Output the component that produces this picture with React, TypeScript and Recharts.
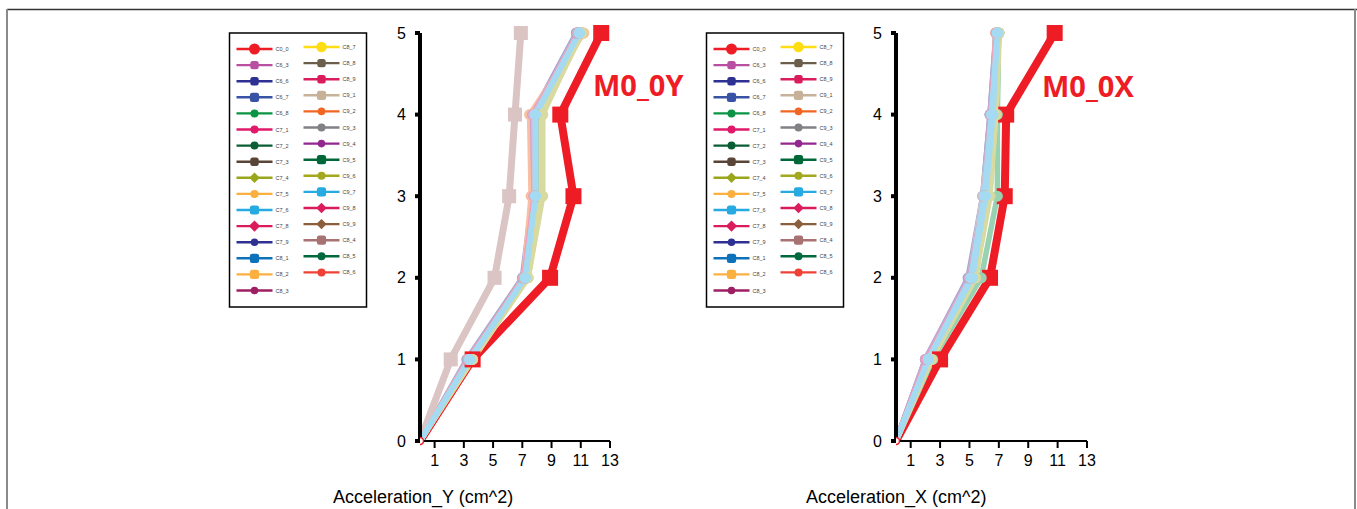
import { Line, LineChart, XAxis, YAxis } from "recharts";

// storey levels on the vertical axis
const storeys = [0, 1, 2, 3, 4, 5];
const yTicks = [0, 1, 2, 3, 4, 5];
const xTicks = [1, 3, 5, 7, 9, 11, 13];

const seriesNames = [
  "C0_0", "C6_3", "C6_6", "C6_7", "C6_8", "C7_1", "C7_2", "C7_3",
  "C7_4", "C7_5", "C7_6", "C7_8", "C7_9", "C8_1", "C8_2", "C8_3",
  "C8_7", "C8_8", "C8_9", "C9_1", "C9_2", "C9_3", "C9_4", "C9_5",
  "C9_6", "C9_7", "C9_8", "C9_9", "C8_4", "C8_5", "C8_6",
];

const seriesColors = [
  "#ee1c25", "#b94fa0", "#2e3192", "#3953a4", "#0b9444", "#e0196a", "#0b5e34", "#584537",
  "#9aa61c", "#fbaf3f", "#27aae1", "#da1c5c", "#2e3192", "#0d72b9", "#fbb040", "#9e1f63",
  "#ffdd15", "#6b5e4b", "#da1c5c", "#c7b299", "#f26522", "#808285", "#92278f", "#006838",
  "#a3a81d", "#27aae1", "#da1c5c", "#8b5e3c", "#a87272", "#00693e", "#ef4136",
];

// acceleration Y per series, storey 0..5
const accelY = [
  [0, 3.6, 8.9, 10.5, 9.6, 12.4],
  [0, 3.4, 7.2, 7.9, 7.8, 10.9],
  [0, 3.3, 7.1, 7.8, 7.7, 10.7],
  [0, 3.4, 7.2, 7.9, 7.8, 10.8],
  [0, 3.5, 7.3, 8.0, 7.9, 11.0],
  [0, 3.4, 7.2, 7.8, 7.8, 10.9],
  [0, 3.3, 7.1, 7.9, 7.9, 10.8],
  [0, 3.5, 7.3, 8.0, 8.0, 11.1],
  [0, 3.6, 7.4, 8.4, 8.4, 11.0],
  [0, 3.4, 7.1, 7.7, 7.6, 11.2],
  [0, 3.4, 7.2, 7.9, 7.9, 10.9],
  [0, 3.3, 7.2, 7.8, 7.8, 10.8],
  [0, 3.2, 7.0, 7.7, 7.7, 10.7],
  [0, 3.4, 7.3, 8.0, 7.9, 11.0],
  [0, 3.5, 7.1, 7.7, 7.6, 11.1],
  [0, 3.3, 7.2, 7.9, 7.8, 10.9],
  [0, 3.4, 7.3, 8.1, 8.0, 11.0],
  [0, 3.3, 7.1, 7.8, 7.8, 10.8],
  [0, 3.4, 7.2, 7.9, 7.9, 10.9],
  [0, 3.5, 7.3, 8.0, 8.1, 11.1],
  [0, 3.4, 7.1, 7.6, 7.5, 11.2],
  [0, 3.3, 7.2, 7.9, 7.8, 10.8],
  [0, 3.4, 7.2, 7.8, 7.7, 10.9],
  [0, 3.5, 7.3, 8.0, 8.0, 11.0],
  [0, 3.6, 7.4, 8.3, 8.3, 11.1],
  [0, 3.4, 7.2, 7.9, 7.9, 10.9],
  [0, 3.3, 7.1, 7.8, 7.8, 10.8],
  [0, 3.4, 7.2, 8.0, 7.9, 11.0],
  [0, 2.1, 5.1, 6.1, 6.5, 6.9],
  [0, 3.5, 7.2, 8.0, 8.0, 10.9],
  [0, 3.4, 7.3, 7.9, 7.8, 11.0],
];

// acceleration X per series, storey 0..5
const accelX = [
  [0, 3.0, 6.4, 7.4, 7.5, 10.8],
  [0, 2.2, 5.1, 6.0, 6.5, 6.9],
  [0, 2.0, 5.0, 5.9, 6.4, 6.8],
  [0, 2.1, 5.1, 6.0, 6.5, 6.9],
  [0, 2.5, 5.8, 6.9, 6.9, 7.0],
  [0, 2.2, 5.2, 6.1, 6.6, 6.9],
  [0, 2.3, 5.3, 6.2, 6.7, 7.0],
  [0, 2.1, 5.0, 6.0, 6.5, 6.8],
  [0, 2.4, 5.4, 6.4, 6.8, 7.0],
  [0, 2.2, 5.2, 6.1, 6.6, 6.8],
  [0, 2.2, 5.1, 6.0, 6.5, 6.9],
  [0, 2.1, 5.2, 6.1, 6.6, 7.0],
  [0, 2.0, 4.9, 5.9, 6.4, 6.8],
  [0, 2.2, 5.2, 6.1, 6.6, 6.9],
  [0, 2.3, 5.3, 6.2, 6.6, 6.8],
  [0, 2.1, 5.1, 6.0, 6.5, 6.9],
  [0, 2.3, 5.3, 6.2, 6.7, 7.0],
  [0, 2.2, 5.1, 6.0, 6.6, 6.9],
  [0, 2.1, 5.2, 6.1, 6.5, 6.9],
  [0, 2.4, 5.4, 6.3, 6.8, 7.0],
  [0, 2.2, 5.2, 6.1, 6.6, 6.8],
  [0, 2.1, 5.0, 5.9, 6.5, 6.9],
  [0, 2.0, 5.0, 6.0, 6.4, 6.9],
  [0, 2.3, 5.3, 6.2, 6.7, 7.0],
  [0, 2.4, 5.4, 6.3, 6.8, 7.0],
  [0, 2.2, 5.2, 6.1, 6.6, 6.9],
  [0, 2.1, 5.1, 6.0, 6.5, 6.8],
  [0, 2.2, 5.2, 6.1, 6.6, 6.9],
  [0, 2.3, 5.3, 6.2, 6.7, 7.0],
  [0, 2.3, 5.2, 6.1, 6.6, 6.9],
  [0, 2.2, 5.1, 6.0, 6.6, 6.9],
];

// series drawn last so they sit on top of the bundle
const topSeries = ["C6_3", "C7_4", "C9_6", "C7_6", "C9_7"];

// legend marker look: c = circle, s = rounded square, d = diamond
const legendShapes = [
  "c", "s", "s", "s", "c", "c", "c", "s", "d", "c", "s", "d", "c", "s", "s", "c",
  "c", "s", "s", "s", "c", "c", "c", "s", "c", "s", "d", "d", "s", "c", "c",
];
const legendSizes = [
  5.5, 4.2, 4.2, 4.6, 4, 4, 4, 4.2, 5.2, 4, 4.6, 5.6, 3.8, 4.6, 4.6, 3.8,
  5.2, 4.2, 4.2, 4.6, 3.8, 4, 3.8, 4.6, 4, 4.6, 5.2, 5.2, 4.6, 4, 4,
];

const FONT = "'Liberation Sans', Arial, sans-serif";
const RED = "#ee1c25";

function tint(hex: string, k: number) {
  const n = parseInt(hex.slice(1), 16);
  const mix = (c: number) => Math.round(c + (255 - c) * k);
  const r = mix((n >> 16) & 255);
  const g = mix((n >> 8) & 255);
  const b = mix(n & 255);
  return `rgb(${r},${g},${b})`;
}

function buildRows(values: number[][]) {
  return storeys.map((s, i) => {
    const row: Record<string, number> = { storey: s };
    seriesNames.forEach((name, k) => {
      row[name] = values[k][i];
    });
    return row;
  });
}

function makeDot(name: string, kind: "red" | "pink" | "plain", color: string) {
  return (p: any) => {
    const { cx, cy, index } = p;
    const key = `${name}-${index}`;
    if (cx == null || cy == null) return <g key={key} />;
    if (kind === "red") {
      if (index === 0)
        return <circle key={key} cx={cx} cy={cy} r={3.5} fill="#fff" stroke={RED} strokeWidth={1.5} />;
      return <rect key={key} x={cx - 8} y={cy - 8} width={16} height={16} fill={RED} />;
    }
    if (kind === "pink") {
      if (index === 0) return <g key={key} />;
      return <rect key={key} x={cx - 7} y={cy - 7} width={14} height={14} fill={color} />;
    }
    if (index === 0) return <g key={key} />;
    return <circle key={key} cx={cx} cy={cy} r={5.5} fill={color} />;
  };
}

function StoreyChart({
  values,
  left,
  marginRight,
  pinkSeries,
}: {
  values: number[][];
  left: number;
  marginRight: number;
  pinkSeries: boolean;
}) {
  const rows = buildRows(values);
  const order = seriesNames
    .map((name, k) => k)
    .filter((k) => !topSeries.includes(seriesNames[k]))
    .concat(topSeries.map((n) => seriesNames.indexOf(n)));
  return (
    <div style={{ position: "absolute", left, top: 0 }}>
      <LineChart
        layout="vertical"
        width={300}
        height={509}
        data={rows}
        margin={{ top: 33, right: marginRight, left: 40, bottom: 38 }}
      >
        <XAxis
          type="number"
          domain={[0, 13]}
          ticks={xTicks}
          allowDataOverflow
          axisLine={{ stroke: "#000", strokeWidth: 2 }}
          tickLine={{ stroke: "#000", strokeWidth: 2 }}
          tickSize={7}
          tickMargin={7}
          height={30}
          interval={0}
          tick={{ fill: "#000", fontSize: 16, fontFamily: FONT }}
        />
        <YAxis
          type="number"
          dataKey="storey"
          domain={[0, 5]}
          ticks={yTicks}
          reversed
          width={40}
          axisLine={{ stroke: "#000", strokeWidth: 4 }}
          tickLine={{ stroke: "#000", strokeWidth: 4 }}
          tickSize={5}
          tickMargin={9}
          interval={0}
          tick={{ fill: "#000", fontSize: 16, fontFamily: FONT }}
        />
        {order.map((k) => {
          const name = seriesNames[k];
          const isRed = k === 0;
          const isPink = pinkSeries && name === "C8_4";
          const color = isRed ? RED : tint(seriesColors[k], 0.58);
          return (
            <Line
              key={name}
              dataKey={name}
              type="linear"
              stroke={color}
              strokeWidth={isRed ? 8 : isPink ? 7 : 5.5}
              strokeLinejoin="miter"
              dot={makeDot(name, isRed ? "red" : isPink ? "pink" : "plain", color)}
              activeDot={false}
              isAnimationActive={false}
            />
          );
        })}
      </LineChart>
    </div>
  );
}

function LegendBox({ x, y }: { x: number; y: number }) {
  const pitch = 16.1;
  return (
    <g transform={`translate(${x},${y})`}>
      <rect x={0} y={0} width={137} height={274} fill="#fff" stroke="#000" strokeWidth={1.5} />
      {seriesNames.map((name, i) => {
        const col = i < 16 ? 0 : 1;
        const row = col === 0 ? i : i - 16;
        const cy = (col === 0 ? 16 : 14) + row * pitch;
        const x0 = col === 0 ? 7 : 74;
        const mx = x0 + 18;
        const color = seriesColors[i];
        const s = legendSizes[i];
        const shape = legendShapes[i];
        let marker;
        if (shape === "c") marker = <circle cx={mx} cy={cy} r={s} fill={color} />;
        else if (shape === "s")
          marker = <rect x={mx - s} y={cy - s} width={s * 2} height={s * 2} rx={2.5} fill={color} />;
        else
          marker = (
            <polygon
              points={`${mx},${cy - s} ${mx + s},${cy} ${mx},${cy + s} ${mx - s},${cy}`}
              fill={color}
            />
          );
        return (
          <g key={name}>
            <line x1={x0} x2={x0 + 36} y1={cy} y2={cy} stroke={color} strokeWidth={2.4} />
            {marker}
            <text x={x0 + 39} y={cy + 2} fontSize={5.5} fontFamily={FONT} fill="#444">
              {name}
            </text>
          </g>
        );
      })}
    </g>
  );
}

export default function App() {
  return (
    <div
      style={{
        position: "absolute",
        left: 0,
        top: 0,
        width: 1357,
        height: 509,
        background: "#fff",
        overflow: "hidden",
      }}
    >
      <svg width={1357} height={509} style={{ position: "absolute", left: 0, top: 0 }}>
        <line x1={7} x2={1357} y1={9.5} y2={9.5} stroke="#333" strokeWidth={1.5} />
        <line x1={7} x2={7} y1={9} y2={509} stroke="#8a8a8a" strokeWidth={2} />
        <line x1={1355} x2={1355} y1={9} y2={509} stroke="#8a8a8a" strokeWidth={2} />
        <LegendBox x={229.5} y={33} />
        <LegendBox x={706.5} y={33} />
        <text x={333} y={503} fontSize={18} fontFamily={FONT} fill="#000">
          Acceleration_Y (cm^2)
        </text>
        <text x={806} y={503} fontSize={18} fontFamily={FONT} fill="#000">
          Acceleration_X (cm^2)
        </text>
      </svg>
      <StoreyChart values={accelY} left={340} marginRight={30} pinkSeries />
      <StoreyChart values={accelX} left={816} marginRight={29} pinkSeries={false} />
      <svg width={1357} height={509} style={{ position: "absolute", left: 0, top: 0, pointerEvents: "none" }}>
        <text x={593} y={96} fontSize={29} fontWeight="bold" fontFamily="'Open Sans', sans-serif" fill={RED}>
          M0_0Y
        </text>
        <text x={1042} y={97} fontSize={29} fontWeight="bold" fontFamily="'Open Sans', sans-serif" fill={RED}>
          M0_0X
        </text>
      </svg>
    </div>
  );
}
